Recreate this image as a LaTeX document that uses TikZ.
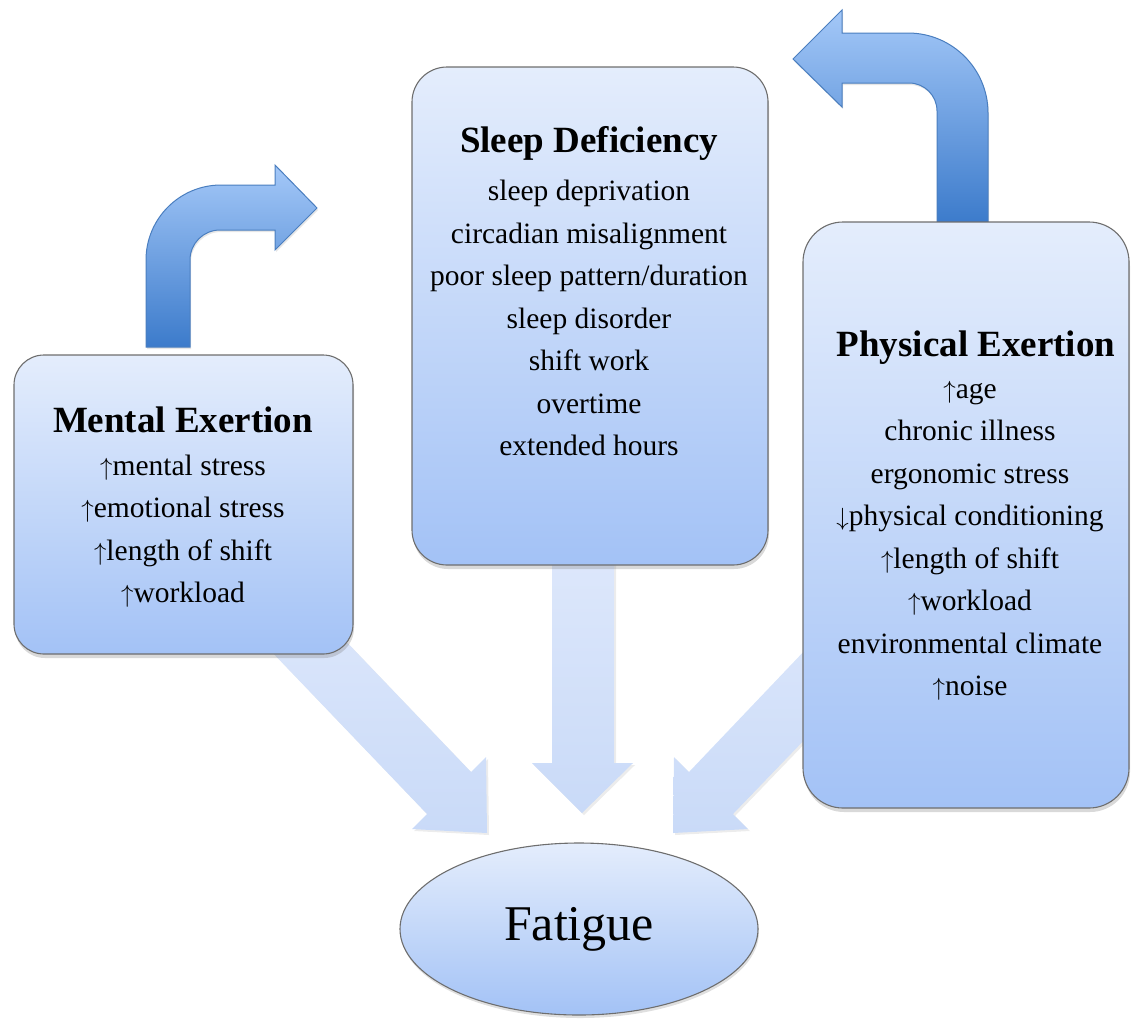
\documentclass[tikz,border=0pt]{standalone}
\usepackage{fontspec}
\setmainfont{Liberation Serif}
\usetikzlibrary{shapes.geometric,shadows}
\definecolor{boxtop}{HTML}{E4EDFC}
\definecolor{boxbot}{HTML}{A3C2F6}
\definecolor{boxline}{HTML}{6E6E6E}
\definecolor{fadetop}{HTML}{DEE8FB}
\definecolor{fadebot}{HTML}{C9DAF8}
\definecolor{bendtop}{HTML}{A4C8F8}
\definecolor{bendbot}{HTML}{3C7BCB}
\definecolor{bendline}{HTML}{4A7EBF}
\newcommand{\upar}{$\uparrow$}
\newcommand{\dnar}{$\downarrow$}
\begin{document}
\begin{tikzpicture}[x=1pt,y=-1pt,
  factorbox/.style={draw=boxline, line width=1.1pt, top color=boxtop, bottom color=boxbot,
    inner sep=0pt, drop shadow={shadow xshift=1pt, shadow yshift=-4pt, opacity=0.3}},
  fadearrow/.style={top color=fadetop, bottom color=fadebot,
    drop shadow={shadow xshift=2pt, shadow yshift=-2pt, opacity=0.15}},
  bentarrow/.style={draw=bendline, line width=1pt, top color=bendtop, bottom color=bendbot,
    drop shadow={shadow xshift=1pt, shadow yshift=-2pt, opacity=0.2}},
  headtext/.style={inner sep=0pt, font=\fontsize{37}{44}\selectfont\bfseries},
  listtext/.style={inner sep=0pt, align=center, font=\fontsize{29.5}{42.5}\selectfont}]
\useasboundingbox (0,0) rectangle (1131,1029);

% light block arrows towards Fatigue
\path[fadearrow] (292,585) -- (471,772) -- (486,757) -- (487,833) -- (412,829) -- (427,814) -- (248,627) -- cycle;
\path[fadearrow] (552,540) -- (552,763) -- (532,763) -- (582,813) -- (633,763) -- (614,763) -- (614,540) -- cycle;
\path[fadearrow] (868,584) -- (689,772) -- (674,757) -- (673,833) -- (748,829) -- (733,814) -- (913,627) -- cycle;

% bent arrows
\path[bentarrow] (146,347) -- (146,260) .. controls (146,218.6) and (179.6,185) .. (221,185)
  -- (275,185) -- (275,165) -- (317,208) -- (275,250) -- (275,230) -- (220,230)
  .. controls (203.4,230) and (190,243.4) .. (190,260) -- (190,347) -- cycle;
\path[bentarrow] (988,223) -- (988,113) .. controls (988,68.8) and (952.2,33) .. (908,33)
  -- (842,33) -- (842,10) -- (793,59) -- (842,107) -- (842,83) -- (909,83)
  .. controls (924.5,83) and (937,95.5) .. (937,111) -- (937,223) -- cycle;

% factor boxes
\node[factorbox, rounded corners=30pt, minimum width=339pt, minimum height=299pt] (mentalbox) at (183.5,504.5) {};
\node[factorbox, rounded corners=35pt, minimum width=356pt, minimum height=498pt] (sleepbox) at (590,316) {};
\node[factorbox, rounded corners=40pt, minimum width=326pt, minimum height=586pt] (physbox) at (966,515) {};

\node[headtext] (mentalhead) at (183,420) {Mental Exertion};
\node[listtext] (mentallist) at (183,531) {\upar mental stress\\\upar emotional stress\\\upar length of shift\\\upar workload};

\node[headtext] (sleephead) at (589,143) {Sleep Deficiency};
\node[listtext] (sleeplist) at (589,318) {sleep deprivation\\circadian misalignment\\poor sleep pattern/duration\\sleep disorder\\shift work\\overtime\\extended hours};

\node[headtext] (physhead) at (976,348) {Physical Exertion};
\node[listtext] (physlist) at (970,541) {\upar age\\chronic illness\\ergonomic stress\\\dnar physical conditioning\\\upar length of shift\\\upar workload\\environmental climate\\\upar noise};

% Fatigue
\node[ellipse, draw=boxline, line width=1.1pt, top color=boxtop, bottom color=boxbot,
  minimum width=358pt, minimum height=172pt, inner sep=0pt,
  drop shadow={shadow xshift=1pt, shadow yshift=-3pt, opacity=0.25},
  font=\fontsize{50}{60}\selectfont] (fatigue) at (579,929) {Fatigue};
\end{tikzpicture}
\end{document}
